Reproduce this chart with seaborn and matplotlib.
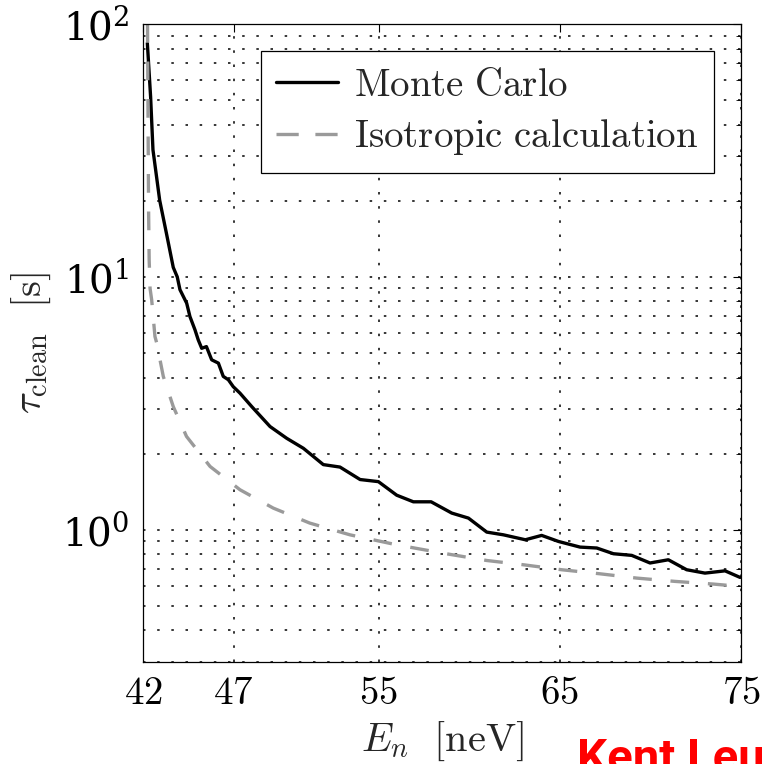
import numpy as np
import pandas as pd
import matplotlib
matplotlib.use("Agg")
import matplotlib.pyplot as plt
import seaborn as sns
from matplotlib.ticker import LogLocator, NullFormatter, FixedLocator

# ---- data ----
E_mc = [42.24, 42.42, 42.55, 42.92, 43.29, 43.67, 43.89, 44.04, 44.41, 44.59,
        44.87, 45.05, 45.24, 45.50, 45.79, 46.16, 46.43, 46.71, 46.98, 47.35,
        48.00, 49.01, 49.93, 50.85, 51.95, 52.87, 53.98, 54.99, 56.00, 56.92,
        57.90, 59.04, 59.96, 60.97, 61.89, 63.10, 64.00, 64.93, 66.12, 67.04,
        67.96, 68.97, 69.98, 70.99, 72.00, 73.01, 74.12, 74.95]
tau_mc = [84.0, 51.5, 31.8, 20.1, 14.9, 10.9, 10.0, 8.9, 7.87, 6.97,
          6.17, 5.63, 5.22, 5.30, 4.70, 4.56, 4.04, 3.92, 3.68, 3.47,
          3.07, 2.56, 2.30, 2.10, 1.81, 1.77, 1.58, 1.55, 1.37, 1.29,
          1.29, 1.164, 1.112, 0.979, 0.955, 0.913, 0.950, 0.899, 0.854, 0.847,
          0.804, 0.792, 0.739, 0.761, 0.695, 0.674, 0.688, 0.648]

E_iso = [42.25, 42.28, 42.31, 42.34, 42.39, 42.48, 42.66, 42.75, 43.12, 43.67,
         44.40, 45.70, 47.35, 49.19, 51.20, 53.42, 56.00, 58.73, 60.97, 63.00,
         65.10, 67.20, 69.25, 71.36, 73.47, 74.95]
tau_iso = [100.0, 40.0, 18.0, 11.7, 9.0, 8.1, 5.81, 5.5, 4.04, 3.07,
           2.34, 1.78, 1.44, 1.218, 1.063, 0.955, 0.872, 0.804, 0.756, 0.727,
           0.695, 0.670, 0.644, 0.625, 0.610, 0.597]

x_ticks = [42, 47, 55, 65, 75]
x_tick_labels = ["$42$", "$47$", "$55$", "$65$", "$75$"]
legend_labels = [r"$\mathrm{Monte\ Carlo}$", r"$\mathrm{Isotropic\ calculation}$"]

df_mc = pd.DataFrame({"E": E_mc, "tau": tau_mc})
df_iso = pd.DataFrame({"E": E_iso, "tau": tau_iso})

sns.set_theme(style="white")
plt.rcParams["mathtext.fontset"] = "cm"
plt.rcParams["font.family"] = ["DejaVu Serif"]
plt.rcParams["lines.scale_dashes"] = False

fig = plt.figure(figsize=(7.62, 7.64), dpi=100)
ax = fig.add_axes([143 / 762, 1 - 662 / 764, 598 / 762, 638 / 764])

ISO_COLOR = "#9a9a9a"
sns.lineplot(data=df_mc, x="E", y="tau", ax=ax, color="black", linewidth=2.4,
             label=legend_labels[0], estimator=None, sort=False)
sns.lineplot(data=df_iso, x="E", y="tau", ax=ax, color=ISO_COLOR, linewidth=2.4,
             label=legend_labels[1], estimator=None, sort=False,
             linestyle=(0, (13.5, 13.5)))

ax.set_yscale("log")
ax.set_xlim(42, 75)
ax.set_ylim(0.3, 100)

ax.xaxis.set_major_locator(FixedLocator(x_ticks))
ax.set_xticklabels(x_tick_labels)
ax.yaxis.set_major_locator(LogLocator(base=10, numticks=10))
ax.yaxis.set_minor_locator(LogLocator(base=10, subs=np.arange(2, 10), numticks=20))
ax.yaxis.set_minor_formatter(NullFormatter())

grid_kw = dict(color="black", linewidth=1.1, linestyle=(0, (1.8, 8.4)))
ax.grid(True, which="major", axis="both", **grid_kw)
ax.grid(True, which="minor", axis="y", **grid_kw)

ax.tick_params(axis="both", which="both", direction="in", top=True, right=True,
               labelsize=28, colors="black")
ax.tick_params(axis="both", which="major", length=6, width=0.8)
ax.tick_params(axis="y", which="minor", length=3.5, width=0.6)
ax.tick_params(axis="x", which="major", pad=9)
ax.tick_params(axis="y", which="major", pad=10)

for s in ax.spines.values():
    s.set_color("black")
    s.set_linewidth(0.9)

ax.set_xlabel(r"$E_n\ \ [\mathrm{neV}]$", fontsize=29, labelpad=6)
ax.set_ylabel(r"$\tau_{\mathrm{clean}}\ \ [\mathrm{s}]$", fontsize=29, labelpad=6)

leg = ax.legend(loc="upper right", fontsize=28, frameon=True, fancybox=False,
                edgecolor="black", framealpha=1, borderpad=0.4,
                labelspacing=0.35, handlelength=1.6, handletextpad=0.4,
                borderaxespad=0.7)
leg.get_frame().set_linewidth(0.9)
for h in leg.get_lines():
    h.set_linewidth(2.4)
leg.get_lines()[1].set_linestyle((0, (16, 12)))

fig.text(577 / 762, 1 - 772 / 764, "Kent Leu", color="#ff0000", fontsize=34,
         fontweight="bold", family=["Roboto", "DejaVu Sans"], va="baseline")

fig.savefig("out.png", dpi=100)
